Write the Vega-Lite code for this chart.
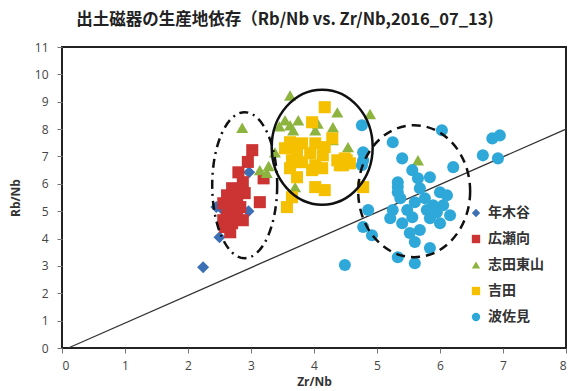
{
  "$schema": "https://vega.github.io/schema/vega-lite/v6.json",
  "width": 504,
  "height": 301,
  "autosize": {"type": "none"},
  "padding": {"left": 62, "top": 47, "right": 7, "bottom": 43},
  "background": "white",
  "title": {
    "text": "出土磁器の生産地依存（Rb/Nb vs. Zr/Nb,2016_07_13)",
    "font": "Noto Sans CJK JP",
    "fontSize": 16.5,
    "fontWeight": "bold",
    "color": "#222",
    "anchor": "middle",
    "dx": -29,
    "offset": 13
  },
  "config": {
    "view": {"stroke": "#222", "strokeWidth": 2},
    "axis": {
      "domain": false,
      "grid": false,
      "ticks": true,
      "tickSize": 5,
      "tickColor": "#777",
      "labelFont": "Open Sans",
      "labelFontSize": 12,
      "labelColor": "#444",
      "titleFont": "Open Sans",
      "titleFontSize": 12,
      "titleFontWeight": "bold",
      "titleColor": "#333"
    }
  },
  "datasets": {
    "diag": [{"zr": 0.1, "rb": 0, "zr2": 8, "rb2": 8}],
    "ellipses": [
      {"zr": 2.9, "rb": 5.95, "kind": "dashdot"},
      {"zr": 4.13, "rb": 7.34, "kind": "solid"},
      {"zr": 5.59, "rb": 5.73, "kind": "dashed"}
    ],
    "pts": [
      {"site": "年木谷", "zr": 2.24, "rb": 2.95},
      {"site": "年木谷", "zr": 2.45, "rb": 5.15},
      {"site": "年木谷", "zr": 2.55, "rb": 5.05},
      {"site": "年木谷", "zr": 2.62, "rb": 5.3},
      {"site": "年木谷", "zr": 2.5, "rb": 4.05},
      {"site": "年木谷", "zr": 2.96, "rb": 5.0},
      {"site": "年木谷", "zr": 2.97, "rb": 6.42},
      {"site": "年木谷", "zr": 2.55, "rb": 4.6},
      {"site": "広瀬向", "zr": 3.02, "rb": 7.23},
      {"site": "広瀬向", "zr": 2.95, "rb": 6.8},
      {"site": "広瀬向", "zr": 2.8, "rb": 6.42},
      {"site": "広瀬向", "zr": 2.87, "rb": 6.06},
      {"site": "広瀬向", "zr": 2.7, "rb": 5.84},
      {"site": "広瀬向", "zr": 2.8, "rb": 5.77},
      {"site": "広瀬向", "zr": 2.62, "rb": 5.58},
      {"site": "広瀬向", "zr": 2.78, "rb": 5.51},
      {"site": "広瀬向", "zr": 2.9, "rb": 5.66},
      {"site": "広瀬向", "zr": 3.14, "rb": 5.33},
      {"site": "広瀬向", "zr": 2.56, "rb": 5.29},
      {"site": "広瀬向", "zr": 2.7, "rb": 5.15},
      {"site": "広瀬向", "zr": 2.83, "rb": 5.15},
      {"site": "広瀬向", "zr": 2.62, "rb": 4.85},
      {"site": "広瀬向", "zr": 2.78, "rb": 4.85},
      {"site": "広瀬向", "zr": 2.87, "rb": 4.67},
      {"site": "広瀬向", "zr": 2.56, "rb": 4.67},
      {"site": "広瀬向", "zr": 2.7, "rb": 4.56},
      {"site": "広瀬向", "zr": 2.67, "rb": 4.23},
      {"site": "広瀬向", "zr": 2.59, "rb": 4.42},
      {"site": "広瀬向", "zr": 3.2, "rb": 6.2},
      {"site": "志田東山", "zr": 2.86, "rb": 8.05},
      {"site": "志田東山", "zr": 3.14, "rb": 6.5},
      {"site": "志田東山", "zr": 3.25, "rb": 6.4},
      {"site": "志田東山", "zr": 3.28, "rb": 6.65},
      {"site": "志田東山", "zr": 3.38, "rb": 7.15},
      {"site": "志田東山", "zr": 3.54, "rb": 8.32},
      {"site": "志田東山", "zr": 3.62, "rb": 9.23},
      {"site": "志田東山", "zr": 3.62, "rb": 8.14},
      {"site": "志田東山", "zr": 3.67, "rb": 7.96},
      {"site": "志田東山", "zr": 3.75, "rb": 8.32},
      {"site": "志田東山", "zr": 4.02, "rb": 7.96},
      {"site": "志田東山", "zr": 4.06, "rb": 8.2},
      {"site": "志田東山", "zr": 4.3, "rb": 8.07},
      {"site": "志田東山", "zr": 4.37, "rb": 8.61},
      {"site": "志田東山", "zr": 4.89, "rb": 8.55},
      {"site": "志田東山", "zr": 4.54, "rb": 7.34},
      {"site": "志田東山", "zr": 3.7, "rb": 5.88},
      {"site": "志田東山", "zr": 5.65, "rb": 6.86},
      {"site": "志田東山", "zr": 3.45, "rb": 8.1},
      {"site": "志田東山", "zr": 4.3, "rb": 7.6},
      {"site": "吉田", "zr": 4.17, "rb": 8.8},
      {"site": "吉田", "zr": 3.97, "rb": 8.25},
      {"site": "吉田", "zr": 4.29, "rb": 7.66},
      {"site": "吉田", "zr": 3.62, "rb": 7.52},
      {"site": "吉田", "zr": 3.81, "rb": 7.48},
      {"site": "吉田", "zr": 4.02, "rb": 7.48},
      {"site": "吉田", "zr": 4.17, "rb": 7.34},
      {"site": "吉田", "zr": 3.54, "rb": 7.3},
      {"site": "吉田", "zr": 3.73, "rb": 7.12},
      {"site": "吉田", "zr": 3.94, "rb": 7.12},
      {"site": "吉田", "zr": 4.14, "rb": 7.04},
      {"site": "吉田", "zr": 4.37, "rb": 6.86},
      {"site": "吉田", "zr": 4.49, "rb": 6.93},
      {"site": "吉田", "zr": 3.65, "rb": 6.86},
      {"site": "吉田", "zr": 3.81, "rb": 6.79},
      {"site": "吉田", "zr": 4.02, "rb": 6.68},
      {"site": "吉田", "zr": 3.62, "rb": 6.57},
      {"site": "吉田", "zr": 3.97, "rb": 6.5},
      {"site": "吉田", "zr": 4.13, "rb": 6.57},
      {"site": "吉田", "zr": 3.73, "rb": 6.24},
      {"site": "吉田", "zr": 4.41, "rb": 6.68},
      {"site": "吉田", "zr": 4.57, "rb": 6.75},
      {"site": "吉田", "zr": 4.02, "rb": 5.88},
      {"site": "吉田", "zr": 4.17, "rb": 5.77},
      {"site": "吉田", "zr": 4.78, "rb": 5.88},
      {"site": "吉田", "zr": 3.57, "rb": 5.15},
      {"site": "吉田", "zr": 3.65, "rb": 5.51},
      {"site": "吉田", "zr": 4.52, "rb": 6.86},
      {"site": "吉田", "zr": 4.46, "rb": 6.68},
      {"site": "波佐見", "zr": 4.76, "rb": 8.14},
      {"site": "波佐見", "zr": 6.03, "rb": 7.96},
      {"site": "波佐見", "zr": 5.25, "rb": 7.52},
      {"site": "波佐見", "zr": 4.78, "rb": 7.15},
      {"site": "波佐見", "zr": 4.78, "rb": 6.86},
      {"site": "波佐見", "zr": 5.4, "rb": 6.93},
      {"site": "波佐見", "zr": 4.76, "rb": 6.68},
      {"site": "波佐見", "zr": 6.21, "rb": 6.61},
      {"site": "波佐見", "zr": 5.56, "rb": 6.5},
      {"site": "波佐見", "zr": 5.84, "rb": 6.24},
      {"site": "波佐見", "zr": 5.65, "rb": 6.2},
      {"site": "波佐見", "zr": 5.33, "rb": 6.06},
      {"site": "波佐見", "zr": 5.33, "rb": 5.88},
      {"site": "波佐見", "zr": 5.68, "rb": 5.84},
      {"site": "波佐見", "zr": 5.33, "rb": 5.69},
      {"site": "波佐見", "zr": 6.0, "rb": 5.69},
      {"site": "波佐見", "zr": 6.11, "rb": 5.58},
      {"site": "波佐見", "zr": 5.37, "rb": 5.47},
      {"site": "波佐見", "zr": 5.76, "rb": 5.47},
      {"site": "波佐見", "zr": 5.6, "rb": 5.33},
      {"site": "波佐見", "zr": 5.89, "rb": 5.22},
      {"site": "波佐見", "zr": 6.05, "rb": 5.22},
      {"site": "波佐見", "zr": 5.25, "rb": 5.04},
      {"site": "波佐見", "zr": 5.48, "rb": 5.04},
      {"site": "波佐見", "zr": 5.79, "rb": 5.04},
      {"site": "波佐見", "zr": 4.86, "rb": 5.04},
      {"site": "波佐見", "zr": 5.95, "rb": 4.96},
      {"site": "波佐見", "zr": 6.16, "rb": 4.85},
      {"site": "波佐見", "zr": 5.21, "rb": 4.74},
      {"site": "波佐見", "zr": 5.56, "rb": 4.78},
      {"site": "波佐見", "zr": 5.84, "rb": 4.74},
      {"site": "波佐見", "zr": 5.4, "rb": 4.56},
      {"site": "波佐見", "zr": 6.0, "rb": 4.56},
      {"site": "波佐見", "zr": 4.78, "rb": 4.42},
      {"site": "波佐見", "zr": 5.68, "rb": 4.31},
      {"site": "波佐見", "zr": 5.52, "rb": 4.2},
      {"site": "波佐見", "zr": 4.92, "rb": 4.12},
      {"site": "波佐見", "zr": 5.6, "rb": 3.87},
      {"site": "波佐見", "zr": 5.84, "rb": 3.65},
      {"site": "波佐見", "zr": 5.33, "rb": 3.32},
      {"site": "波佐見", "zr": 5.6, "rb": 3.1},
      {"site": "波佐見", "zr": 4.49, "rb": 3.03},
      {"site": "波佐見", "zr": 6.68, "rb": 7.04},
      {"site": "波佐見", "zr": 6.92, "rb": 6.93},
      {"site": "波佐見", "zr": 6.83, "rb": 7.66},
      {"site": "波佐見", "zr": 6.95, "rb": 7.77}
    ]
  },
  "encoding": {
    "x": {
      "field": "zr",
      "type": "quantitative",
      "scale": {"domain": [0, 8], "nice": false},
      "axis": {"title": "Zr/Nb", "values": [0, 1, 2, 3, 4, 5, 6, 7, 8], "labelPadding": 7, "titlePadding": 5}
    },
    "y": {
      "field": "rb",
      "type": "quantitative",
      "scale": {"domain": [0, 11], "nice": false},
      "axis": {"title": "Rb/Nb", "values": [0, 1, 2, 3, 4, 5, 6, 7, 8, 9, 10, 11], "labelPadding": 9, "titlePadding": 12}
    }
  },
  "layer": [
    {
      "data": {"name": "diag"},
      "mark": {"type": "rule", "color": "#333", "strokeWidth": 1.3},
      "encoding": {"x2": {"field": "zr2"}, "y2": {"field": "rb2"}}
    },
    {
      "data": {"name": "pts"},
      "mark": {"type": "point", "filled": true, "opacity": 1, "size": 145},
      "encoding": {
        "color": {
          "field": "site",
          "type": "nominal",
          "sort": null,
          "scale": {
            "domain": ["年木谷", "広瀬向", "志田東山", "吉田", "波佐見"],
            "range": ["#3D6FB5", "#CC3333", "#8DB43E", "#F5C000", "#2EA8D8"]
          },
          "legend": {
            "orient": "none",
            "legendX": 407,
            "legendY": 159,
            "title": null,
            "labelFont": "Noto Sans CJK JP",
            "labelFontSize": 14,
            "labelFontWeight": "bold",
            "labelColor": "#333",
            "symbolSize": 70,
            "rowPadding": 12,
            "labelOffset": 5
          }
        },
        "shape": {
          "field": "site",
          "type": "nominal",
          "sort": null,
          "scale": {
            "domain": ["年木谷", "広瀬向", "志田東山", "吉田", "波佐見"],
            "range": ["diamond", "square", "triangle-up", "square", "circle"]
          },
          "legend": {
            "orient": "none",
            "legendX": 407,
            "legendY": 159,
            "title": null,
            "labelFont": "Noto Sans CJK JP",
            "labelFontSize": 14,
            "labelFontWeight": "bold",
            "labelColor": "#333",
            "symbolSize": 70,
            "rowPadding": 12,
            "labelOffset": 5
          }
        }
      }
    },
    {
      "data": {"name": "ellipses"},
      "transform": [{"filter": "datum.kind === 'dashdot'"}],
      "mark": {
        "type": "point",
        "filled": false,
        "stroke": "#111",
        "strokeWidth": 2.5,
        "opacity": 1,
        "strokeDash": [9, 5, 2, 5],
        "size": 21316,
        "shape": "M 0.445 0 C 0.445 0.5523 0.2458 1 0 1 C -0.2458 1 -0.445 0.5523 -0.445 0 C -0.445 -0.5523 -0.2458 -1 0 -1 C 0.2458 -1 0.445 -0.5523 0.445 0 Z"
      },
      "encoding": {}
    },
    {
      "data": {"name": "ellipses"},
      "transform": [{"filter": "datum.kind === 'solid'"}],
      "mark": {
        "type": "point",
        "filled": false,
        "stroke": "#111",
        "strokeWidth": 2.5,
        "opacity": 1,
        "size": 13225,
        "shape": "M 0.878 0 C 0.878 0.5523 0.4849 1 0 1 C -0.4849 1 -0.878 0.5523 -0.878 0 C -0.878 -0.5523 -0.4849 -1 0 -1 C 0.4849 -1 0.878 -0.5523 0.878 0 Z"
      },
      "encoding": {}
    },
    {
      "data": {"name": "ellipses"},
      "transform": [{"filter": "datum.kind === 'dashed'"}],
      "mark": {
        "type": "point",
        "filled": false,
        "stroke": "#111",
        "strokeWidth": 2.5,
        "opacity": 1,
        "strokeDash": [9, 6],
        "size": 17424,
        "shape": "M 0.848 0 C 0.848 0.5523 0.4684 1 0 1 C -0.4684 1 -0.848 0.5523 -0.848 0 C -0.848 -0.5523 -0.4684 -1 0 -1 C 0.4684 -1 0.848 -0.5523 0.848 0 Z"
      },
      "encoding": {}
    }
  ]
}
